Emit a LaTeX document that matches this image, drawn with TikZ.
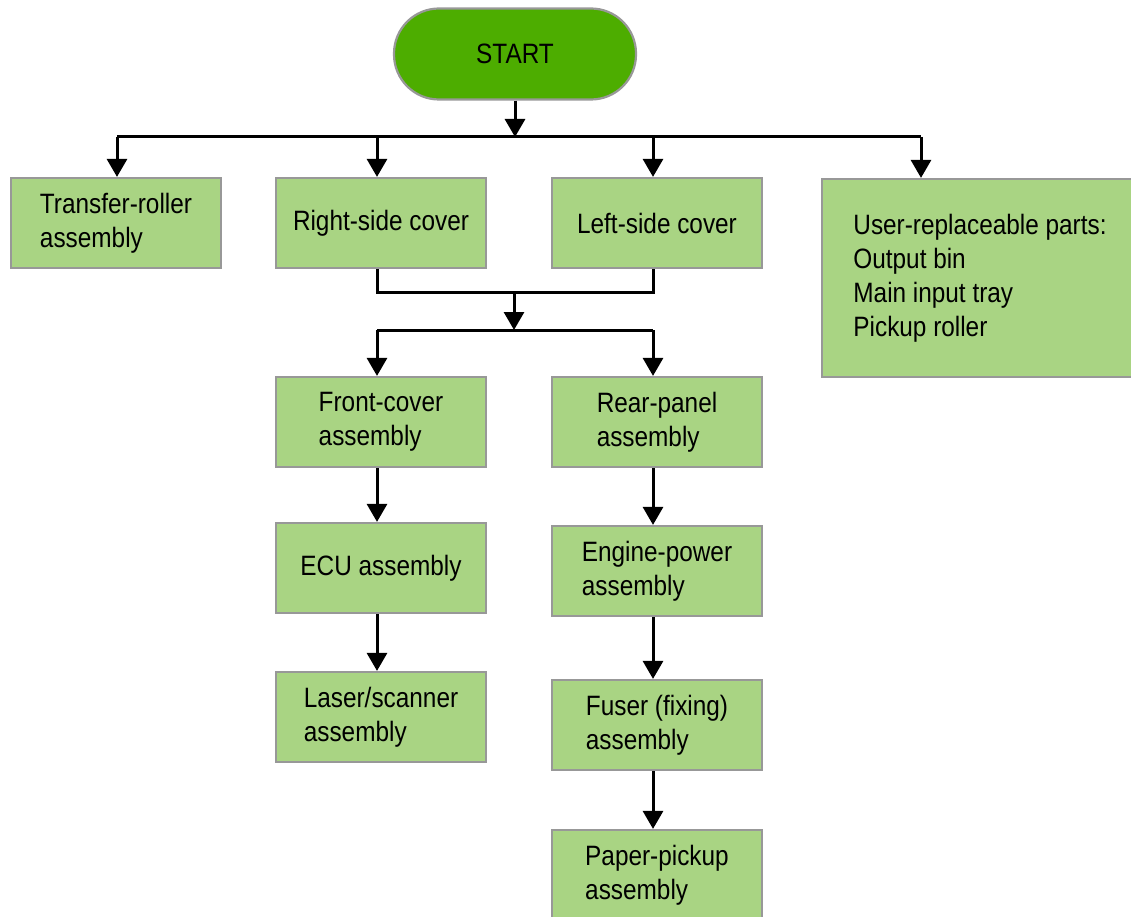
\documentclass[tikz,border=0pt]{standalone}
\usepackage{fontspec}
\setmainfont{Liberation Sans}[FakeStretch=0.87]
\usetikzlibrary{arrows.meta}
\definecolor{boxgreen}{HTML}{A9D483}
\definecolor{startgreen}{HTML}{4DAD00}
\definecolor{boxgray}{HTML}{989898}
\begin{document}
\begin{tikzpicture}[x=1pt,y=-1pt,
  box/.style={draw=boxgray, line width=2.2pt, fill=boxgreen, minimum width=210pt, minimum height=90pt, align=left, font=\fontsize{28}{34}\selectfont, inner sep=0pt},
  startbox/.style={draw=boxgray, line width=2.2pt, fill=startgreen, minimum width=242pt, minimum height=91pt, rounded corners=45pt, font=\fontsize{28}{34}\selectfont, inner sep=0pt},
  arr/.style={line width=3pt, -{Triangle[width=20pt,length=18pt]}},
  ln/.style={line width=3pt}]
\useasboundingbox (0,0) rectangle (1131,917);
\node[startbox] (start) at (515,54) {START};
\node[box] (tr) at (116,223) {Transfer-roller\\assembly};
\node[box] (rsc) at (381,223) {Right-side cover};
\node[box] (lsc) at (657,223) {Left-side cover};
\node[box, minimum width=316pt, minimum height=198pt] (urp) at (980,278) {User-replaceable parts:\\Output bin\\Main input tray\\Pickup roller};
\node[box] (fc) at (381,422) {Front-cover\\assembly};
\node[box] (rp) at (657,422) {Rear-panel\\assembly};
\node[box] (ecu) at (381,568) {ECU assembly};
\node[box] (ls) at (381,717) {Laser/scanner\\assembly};
\node[box] (ep) at (657,571) {Engine-power\\assembly};
\node[box] (fu) at (657,725) {Fuser (fixing)\\assembly};
\node[box] (pp) at (657,875) {Paper-pickup\\assembly};
% top bus
\coordinate (j0) at (515,137);
\coordinate (b1) at (117,137);
\coordinate (b2) at (377,137);
\coordinate (b3) at (653,137);
\coordinate (b4) at (921,137);
\draw[arr] (start.south -| j0) -- (j0);
\draw[ln] (b1) -- (b4);
\draw[arr] (b1) -- (b1 |- tr.north);
\draw[arr] (b2) -- (b2 |- rsc.north);
\draw[arr] (b3) -- (b3 |- lsc.north);
\draw[arr] (b4) -- (b4 |- urp.north);
% middle merge
\coordinate (m1) at (377,292);
\coordinate (m2) at (653,292);
\coordinate (mj) at (514,292);
\coordinate (n0) at (514,330);
\coordinate (n1) at (377,330);
\coordinate (n2) at (653,330);
\draw[ln] (rsc.south -| m1) -- (m1) -- (m2) -- (lsc.south -| m2);
\draw[arr] (mj) -- (n0);
\draw[ln] (n1) -- (n2);
\draw[arr] (n1) -- (n1 |- fc.north);
\draw[arr] (n2) -- (n2 |- rp.north);
% left chain
\draw[arr] (fc.south -| n1) -- (ecu.north -| n1);
\draw[arr] (ecu.south -| n1) -- (ls.north -| n1);
% right chain
\draw[arr] (rp.south -| n2) -- (ep.north -| n2);
\draw[arr] (ep.south -| n2) -- (fu.north -| n2);
\draw[arr] (fu.south -| n2) -- (pp.north -| n2);
\end{tikzpicture}
\end{document}
